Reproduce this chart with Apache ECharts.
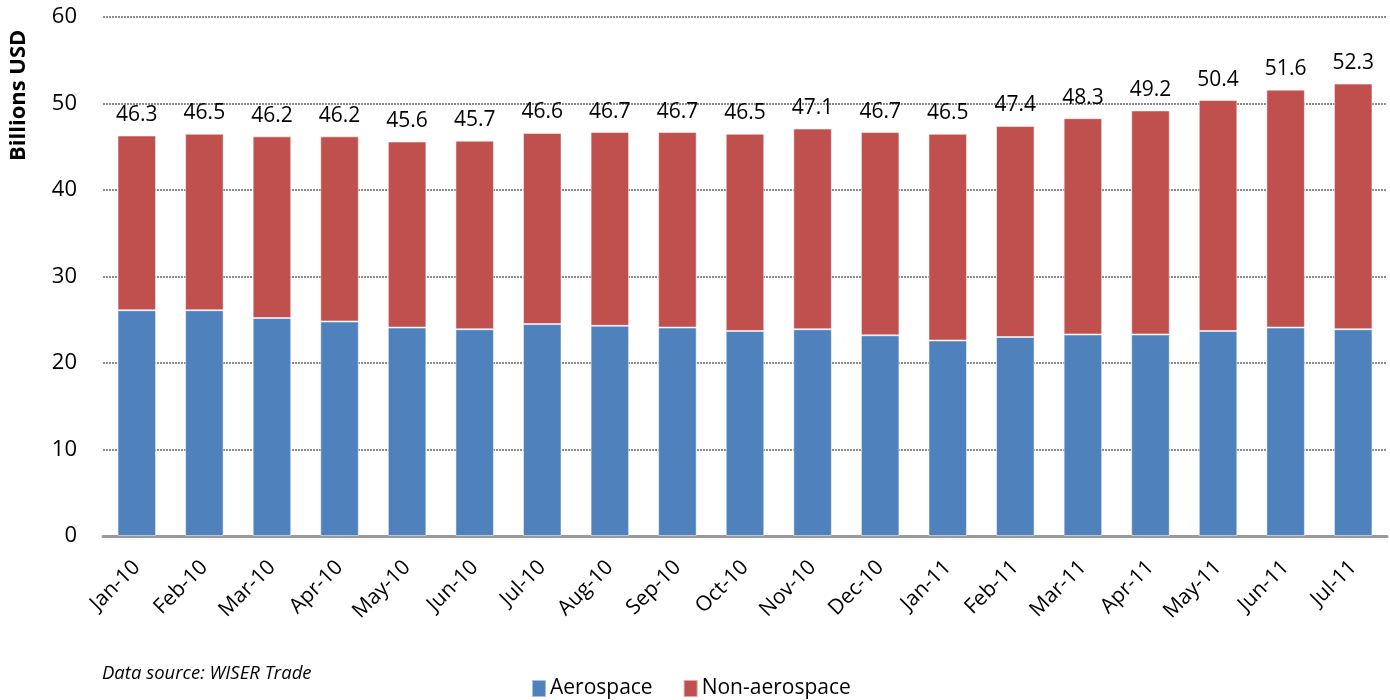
<!DOCTYPE html>
<html>
<head>
<meta charset="utf-8">
<script src="https://cdn.jsdelivr.net/npm/echarts@6/dist/echarts.min.js"></script>
<style>
html,body{margin:0;padding:0;background:#fff;}
#chart{width:1390px;height:700px;}
</style>
</head>
<body>
<div id="chart"></div>
<script>
var categories = ["Jan-10","Feb-10","Mar-10","Apr-10","May-10","Jun-10","Jul-10","Aug-10","Sep-10","Oct-10","Nov-10","Dec-10","Jan-11","Feb-11","Mar-11","Apr-11","May-11","Jun-11","Jul-11"];
var totals = [46.3,46.5,46.2,46.2,45.6,45.7,46.6,46.7,46.7,46.5,47.1,46.7,46.5,47.4,48.3,49.2,50.4,51.6,52.3];
var aerospace = [26.1,26.1,25.2,24.8,24.1,23.9,24.5,24.3,24.1,23.7,23.9,23.2,22.6,23.0,23.3,23.3,23.7,24.1,23.9];
var nonAerospace = totals.map(function(t,i){ return +(t - aerospace[i]).toFixed(1); });
var yTicks = [0,10,20,30,40,50,60];

var FONT = '"Open Sans", "Noto Sans", sans-serif';
var chart = echarts.init(document.getElementById('chart'), null, {renderer:'canvas'});
chart.setOption({
  animation:false,
  backgroundColor:'#fff',
  textStyle:{fontFamily:FONT},
  grid:{left:103, right:3, top:17, bottom:164, containLabel:false},
  legend:{
    left:526, top:673, itemWidth:14, itemHeight:17, itemGap:30, icon:'rect',
    textStyle:{fontSize:21, color:'#000', fontFamily:FONT, padding:[0,0,0,-1]},
    data:['Aerospace','Non-aerospace']
  },
  xAxis:{
    type:'category', data:categories,
    axisLine:{show:true, lineStyle:{color:'#999', width:3}},
    axisTick:{show:false},
    axisLabel:{rotate:45, fontSize:21, color:'#000', margin:28, interval:0, fontFamily:FONT}
  },
  yAxis:{
    type:'value', min:yTicks[0], max:yTicks[yTicks.length-1], interval:10,
    axisLine:{show:false}, axisTick:{show:false},
    axisLabel:{fontSize:22, color:'#000', margin:26, fontFamily:FONT},
    splitLine:{show:true, lineStyle:{color:'#8c8c8c', type:[2,1], width:2}}
  },
  graphic:[
    {type:'text', rotation:Math.PI/2, x:8, y:161, style:{text:'Billions USD', font:'bold 22px ' + FONT, fill:'#000'}},
    {type:'text', left:102, top:664, style:{text:'Data source: WISER Trade', font:'italic 18.5px ' + FONT, fill:'#000'}}
  ],
  series:[
    {name:'Aerospace', type:'bar', stack:'t', data:aerospace, barCategoryGap:'43%',
     itemStyle:{color:'#4F81BD', borderColor:'rgba(255,255,255,0.5)', borderWidth:1}},
    {name:'Non-aerospace', type:'bar', stack:'t', data:nonAerospace, barCategoryGap:'43%',
     itemStyle:{color:'#C0504D', borderColor:'rgba(255,255,255,0.5)', borderWidth:1},
     label:{show:true, position:'top', distance:10, fontSize:21, color:'#000', fontFamily:FONT,
       formatter:function(p){ return totals[p.dataIndex].toFixed(1); }}}
  ]
});
</script>
</body>
</html>
